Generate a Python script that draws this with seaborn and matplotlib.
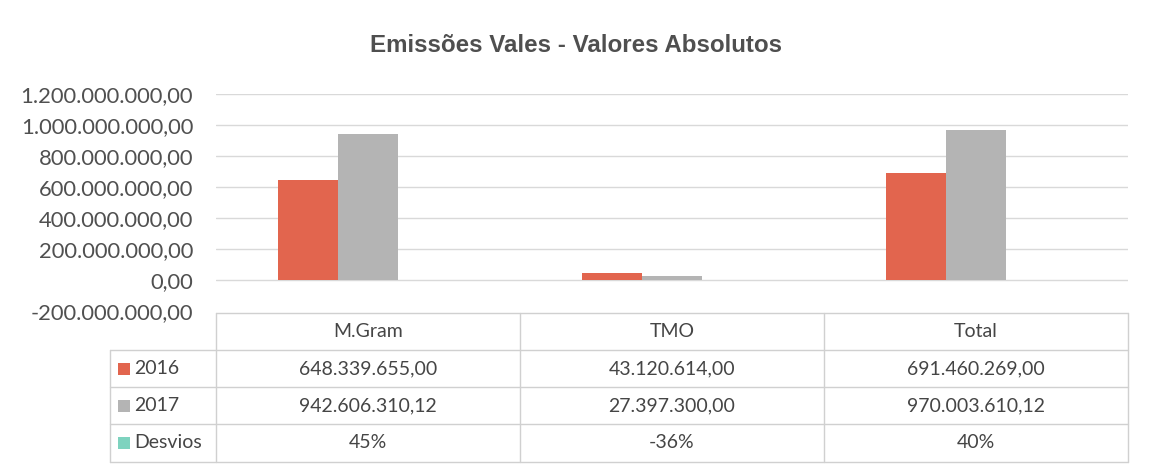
import matplotlib
matplotlib.use("Agg")
import matplotlib.pyplot as plt
import matplotlib.transforms as mtransforms
from matplotlib.patches import Rectangle
from matplotlib.lines import Line2D
import pandas as pd
import seaborn as sns

# Dados do gráfico
categorias = ["M.Gram", "TMO", "Total"]
series = ["2016", "2017", "Desvios"]
valores_2016 = [648339655.00, 43120614.00, 691460269.00]
valores_2017 = [942606310.12, 27397300.00, 970003610.12]
desvios = [0.45, -0.36, 0.40]
cores = ["#E2654E", "#B4B4B4", "#7ED3BF"]
titulo = "Emissões Vales - Valores Absolutos"
y_ticks = [-200e6, 0, 200e6, 400e6, 600e6, 800e6, 1000e6, 1200e6]


def formato_br(v):
    # 1234567.5 -> 1.234.567,50
    s = f"{v:,.2f}"
    return s.replace(",", "X").replace(".", ",").replace("X", ".")


df = pd.DataFrame({
    "categoria": categorias * 3,
    "serie": [s for s in series for _ in categorias],
    "valor": valores_2016 + valores_2017 + desvios,
})

sns.set_theme(style="white")
plt.rcParams["font.family"] = ["Lato", "DejaVu Sans"]

W, H = 1152, 475
fig = plt.figure(figsize=(W / 100, H / 100), dpi=100)
fig.patch.set_facecolor("white")

left, right, top, bottom = 216, 1128, 94, 311
ax = fig.add_axes([left / W, 1 - bottom / H, (right - left) / W, (bottom - top) / H])

sns.barplot(data=df, x="categoria", y="valor", hue="serie", hue_order=series,
            order=categorias, palette=cores, width=0.59, saturation=1,
            linewidth=0, legend=False, ax=ax)

ax.set_ylim(-200e6, 1200e6)
ax.set_xlim(-0.5, 2.5)
ax.set_yticks(y_ticks)
ax.set_yticklabels([formato_br(t) for t in y_ticks], fontsize=15.8, color="#505050")
ax.tick_params(axis="y", length=0, pad=16.5)
ax.set_xticks([])
ax.set_xlabel("")
ax.set_ylabel("")
for sp in ax.spines.values():
    sp.set_visible(False)
for t in y_ticks[1:]:
    ax.axhline(t, color="#D9D9D9", lw=1, zorder=0)
ax.set_axisbelow(True)

fig.text(0.5, 1 - 45 / H, titulo, ha="center", va="center", fontsize=17.4,
         fontweight="bold", color="#4F4F4F", family=["Liberation Sans", "DejaVu Sans"])

# Tabela de dados abaixo do gráfico
trans = mtransforms.blended_transform_factory(ax.transData, fig.transFigure)
linhas_y = [313, 350, 387, 424, 462]
yf = [1 - y / H for y in linhas_y]
cor_borda = "#D0D0D0"
cor_txt = "#454545"
fs = 14

# linhas horizontais
x0_rot = 110 / W
x_ini = left / W
x_fim = right / W
fig.add_artist(Line2D([x_ini, x_fim], [yf[0], yf[0]], color=cor_borda, lw=1))
for y in yf[1:]:
    fig.add_artist(Line2D([x0_rot, x_fim], [y, y], color=cor_borda, lw=1))
# linhas verticais
fig.add_artist(Line2D([x0_rot, x0_rot], [yf[1], yf[-1]], color=cor_borda, lw=1))
for xb in [-0.5, 0.5, 1.5, 2.5]:
    fig.add_artist(Line2D([xb, xb], [yf[0], yf[-1]], color=cor_borda, lw=1,
                          transform=trans))

centros = [(yf[i] + yf[i + 1]) / 2 for i in range(4)]
for i, cat in enumerate(categorias):
    fig.text(i, centros[0], cat, transform=trans, ha="center", va="center",
             fontsize=fs, color=cor_txt)
    fig.text(i, centros[1], formato_br(valores_2016[i]), transform=trans,
             ha="center", va="center", fontsize=fs, color=cor_txt)
    fig.text(i, centros[2], formato_br(valores_2017[i]), transform=trans,
             ha="center", va="center", fontsize=fs, color=cor_txt)
    fig.text(i, centros[3], f"{desvios[i]:.0%}", transform=trans,
             ha="center", va="center", fontsize=fs, color=cor_txt)

for j, nome in enumerate(series):
    yc = centros[j + 1]
    sq = 12
    fig.add_artist(Rectangle((118 / W, yc - sq / 2 / H), sq / W, sq / H,
                             facecolor=cores[j], edgecolor="none",
                             transform=fig.transFigure))
    fig.text(134 / W, yc, nome, ha="left", va="center", fontsize=fs, color=cor_txt)

fig.savefig("out.png", dpi=100, facecolor="white")
